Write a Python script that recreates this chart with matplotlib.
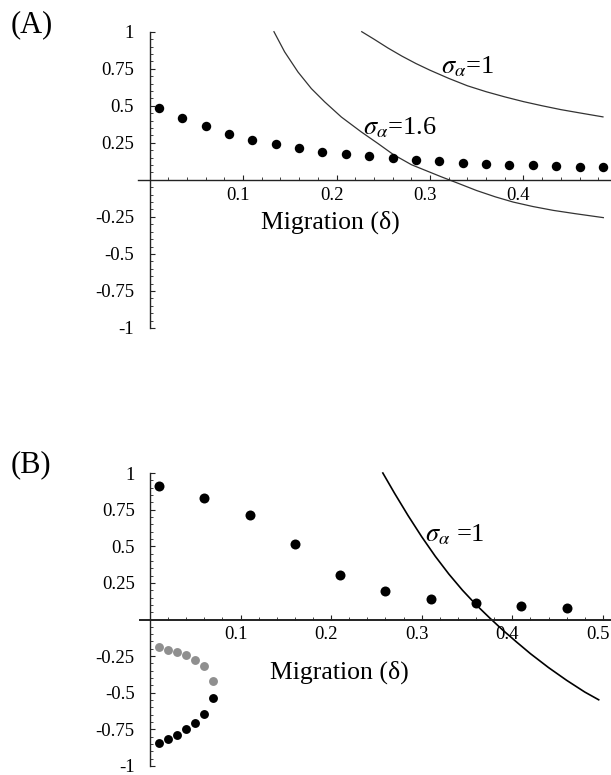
import matplotlib
matplotlib.use("Agg")
import matplotlib.pyplot as plt
from matplotlib.ticker import MultipleLocator, FixedLocator
from matplotlib.transforms import ScaledTranslation

plt.rcParams['font.family'] = ['Liberation Serif', 'DejaVu Serif']
plt.rcParams['mathtext.fontset'] = 'stix'

# ---------------- data: panel A ----------------
a_delta = [0.010, 0.035, 0.060, 0.085, 0.110, 0.135, 0.160, 0.185, 0.210, 0.235,
           0.260, 0.285, 0.310, 0.335, 0.360, 0.385, 0.410, 0.435, 0.460, 0.485]
a_values = [0.482, 0.420, 0.361, 0.311, 0.270, 0.240, 0.213, 0.190, 0.172, 0.158,
            0.145, 0.134, 0.125, 0.116, 0.108, 0.102, 0.097, 0.093, 0.089, 0.086]

a_s1_delta = [0.227, 0.240, 0.255, 0.270, 0.285, 0.300, 0.320, 0.340, 0.360, 0.380,
              0.400, 0.420, 0.440, 0.460, 0.485]
a_s1_vals = [1.0, 0.95, 0.89, 0.835, 0.785, 0.74, 0.685, 0.635, 0.595, 0.56,
             0.528, 0.50, 0.474, 0.452, 0.425]

a_s16_delta = [0.1331, 0.1445, 0.1588, 0.1731, 0.1874, 0.2052, 0.2266, 0.2444, 0.2605,
               0.2802, 0.3123, 0.330, 0.3498, 0.370, 0.389, 0.410, 0.4318, 0.455, 0.4854]
a_s16_vals = [1.0, 0.864, 0.728, 0.616, 0.526, 0.424, 0.323, 0.245, 0.172,
              0.102, 0.02, -0.023, -0.072, -0.115, -0.150, -0.180, -0.206, -0.228, -0.255]

# ---------------- data: panel B ----------------
b_delta = [0.01, 0.06, 0.11, 0.16, 0.21, 0.26, 0.31, 0.36, 0.41, 0.46]
b_values = [0.91, 0.83, 0.71, 0.515, 0.305, 0.197, 0.14, 0.11, 0.09, 0.077]

b_small_delta = [0.01, 0.02, 0.03, 0.04, 0.05, 0.06, 0.07]
b_grey = [-0.185, -0.205, -0.224, -0.242, -0.274, -0.317, -0.423]
b_low = [-0.840, -0.815, -0.788, -0.749, -0.705, -0.646, -0.536]

b_s1_delta = [0.2571, 0.270, 0.285, 0.300, 0.315, 0.330, 0.345, 0.360, 0.375,
              0.390, 0.405, 0.420, 0.440, 0.460, 0.480, 0.4954]
b_s1_vals = [1.0, 0.862, 0.709, 0.565, 0.4315, 0.31, 0.20, 0.101, 0.011,
             -0.075, -0.155, -0.233, -0.328, -0.415, -0.495, -0.548]

y_ticks = [-1, -0.75, -0.5, -0.25, 0.25, 0.5, 0.75, 1]
y_ticklabels = ['-1', '-0.75', '-0.5', '-0.25', '0.25', '0.5', '0.75', '1']
a_x_ticks = [0.1, 0.2, 0.3, 0.4]
a_x_ticklabels = ['0.1', '0.2', '0.3', '0.4']
b_x_ticks = [0.1, 0.2, 0.3, 0.4, 0.5]
b_x_ticklabels = ['0.1', '0.2', '0.3', '0.4', '0.5']

W, H = 611, 775
fig = plt.figure(figsize=(W / 100, H / 100), dpi=100)


def style_axes(ax, xlim, xticks, xlabels):
    ax.set_xlim(*xlim)
    ax.set_ylim(-1, 1)
    for s in ['top', 'right']:
        ax.spines[s].set_visible(False)
    ax.spines['left'].set_position(('data', 0))
    ax.spines['bottom'].set_position(('data', 0))
    for s in ['left', 'bottom']:
        ax.spines[s].set_linewidth(1.0)
        ax.spines[s].set_color('#222222')
    ax.xaxis.set_major_locator(FixedLocator(xticks))
    ax.set_xticklabels(xlabels)
    ax.xaxis.set_minor_locator(MultipleLocator(0.02))
    ax.yaxis.set_major_locator(FixedLocator(y_ticks))
    ax.set_yticklabels(y_ticklabels)
    ax.yaxis.set_minor_locator(MultipleLocator(0.05))
    ax.tick_params(which='major', direction='in', length=3.5, width=0.8, color='#222222')
    ax.tick_params(which='minor', direction='in', length=2.0, width=0.6, color='#222222')
    ax.tick_params(axis='y', which='major', pad=11, labelsize=13.5)
    ax.tick_params(axis='x', which='major', pad=5, labelsize=13.5)
    off = ScaledTranslation(-5 / 100, 0, fig.dpi_scale_trans)
    for lab in ax.get_xticklabels():
        lab.set_transform(lab.get_transform() + off)
    ax.patch.set_alpha(0)


# ---------------- panel A ----------------
axA = fig.add_axes([138.3 / W, 447 / H, 472.7 / W, 296.3 / H])
style_axes(axA, (-0.012, 0.4936), a_x_ticks, a_x_ticklabels)
axA.plot(a_s1_delta, a_s1_vals, color='#333333', lw=0.9, clip_on=False)
axA.plot(a_s16_delta, a_s16_vals, color='#333333', lw=0.9, clip_on=False)
axA.plot(a_delta, a_values, 'o', color='black', ms=6.8, mec='none', clip_on=False)
axA.text(0.3123, 0.761, r'$\sigma_{\alpha}$=1', fontsize=19, ha='left', va='center')
axA.text(0.228, 0.353, r'$\sigma_{\alpha}$=1.6', fontsize=19, ha='left', va='center')
axA.text(0.1936, -0.331, 'Migration (δ)', fontsize=18.5, ha='center', va='baseline')

# ---------------- panel B ----------------
axB = fig.add_axes([140 / W, 9 / H, 471 / W, 293 / H])
style_axes(axB, (-0.011, 0.509), b_x_ticks, b_x_ticklabels)
axB.spines['bottom'].set_linewidth(1.4)
axB.plot(b_s1_delta, b_s1_vals, color='black', lw=1.2, clip_on=False)
axB.plot(b_delta, b_values, 'o', color='black', ms=7.2, mec='none', clip_on=False)
axB.plot(b_small_delta, b_grey, 'o', color='#8f8f8f', ms=6.4, mec='none', clip_on=False)
axB.plot(b_small_delta, b_low, 'o', color='black', ms=6.4, mec='none', clip_on=False)
axB.text(0.304, 0.582, r'$\sigma_{\alpha}$ =1', fontsize=19, ha='left', va='center')
axB.text(0.209, -0.406, 'Migration (δ)', fontsize=18.5, ha='center', va='baseline')

# panel letters
fig.text(11 / W, 1 - 25 / H, '(A)', fontsize=22, ha='left', va='center')
fig.text(11 / W, 1 - 465 / H, '(B)', fontsize=22, ha='left', va='center')

fig.savefig('out.png', dpi=100, facecolor='white')
